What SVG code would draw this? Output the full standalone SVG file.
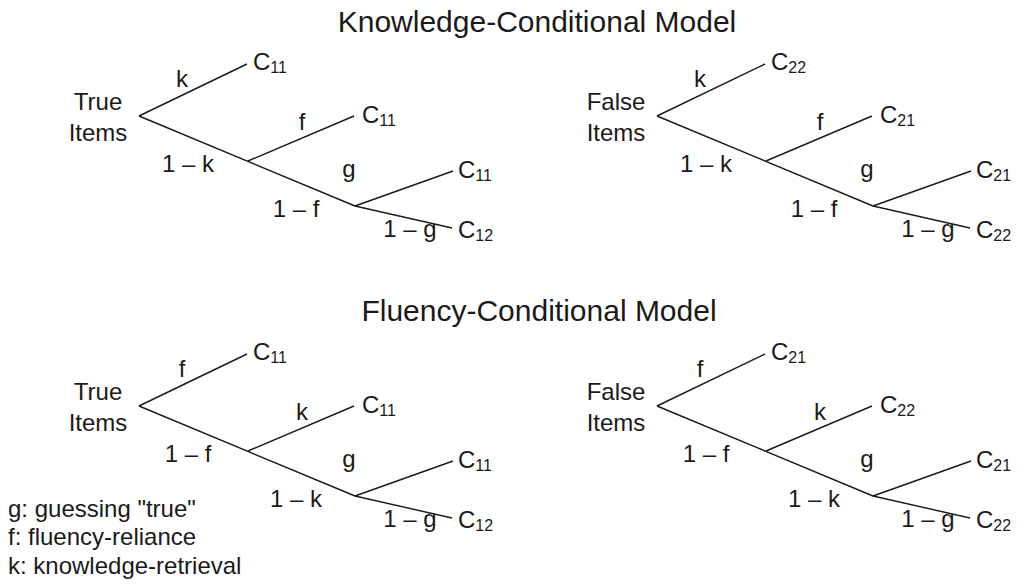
<svg xmlns="http://www.w3.org/2000/svg" width="1022" height="585" viewBox="0 0 1022 585">
<style>
text{font-family:"Liberation Sans",Arial,sans-serif;fill:#1a1a1a}
.t{font-size:30px;text-anchor:middle}
.l{font-size:24px}
.m{text-anchor:middle}
.s{font-size:16px}
.g{font-size:24px}
line{stroke:#1a1a1a;stroke-width:1.4;fill:none}
</style>
<defs>
<g id="tree">
<line x1="139" y1="116" x2="247" y2="64"/>
<line x1="139" y1="116" x2="355" y2="206"/>
<line x1="248" y1="161" x2="354" y2="116"/>
<line x1="355" y1="206" x2="453" y2="171"/>
<line x1="355" y1="206" x2="452" y2="228"/>
</g>
</defs>
<text class="t" x="537" y="32">Knowledge-Conditional Model</text>
<text class="t" x="539" y="321">Fluency-Conditional Model</text>
<g id="connectors">
<use href="#tree"/>
<use href="#tree" x="518"/>
<use href="#tree" y="290"/>
<use href="#tree" x="518" y="290"/>
</g>
<g id="kc-true">
<text class="l m" x="98" y="110">True</text>
<text class="l m" x="98" y="141">Items</text>
<text class="l m" x="182" y="87">k</text>
<text class="l m" x="302" y="130">f</text>
<text class="l m" x="188" y="172">1 – k</text>
<text class="l m" x="349" y="177">g</text>
<text class="l m" x="296" y="217">1 – f</text>
<text class="l m" x="410" y="237">1 – g</text>
<text class="l" x="253" y="70">C<tspan class="s" dy="3">11</tspan></text>
<text class="l" x="362" y="123">C<tspan class="s" dy="3">11</tspan></text>
<text class="l" x="458" y="178">C<tspan class="s" dy="3">11</tspan></text>
<text class="l" x="458" y="238">C<tspan class="s" dy="3">12</tspan></text>
</g>
<g id="kc-false">
<text class="l m" x="616" y="110">False</text>
<text class="l m" x="616" y="141">Items</text>
<text class="l m" x="700" y="87">k</text>
<text class="l m" x="820" y="130">f</text>
<text class="l m" x="706" y="172">1 – k</text>
<text class="l m" x="867" y="177">g</text>
<text class="l m" x="814" y="217">1 – f</text>
<text class="l m" x="928" y="237">1 – g</text>
<text class="l" x="771" y="70">C<tspan class="s" dy="3">22</tspan></text>
<text class="l" x="880" y="123">C<tspan class="s" dy="3">21</tspan></text>
<text class="l" x="976" y="178">C<tspan class="s" dy="3">21</tspan></text>
<text class="l" x="976" y="238">C<tspan class="s" dy="3">22</tspan></text>
</g>
<g id="fc-true">
<text class="l m" x="98" y="400">True</text>
<text class="l m" x="98" y="431">Items</text>
<text class="l m" x="182" y="377">f</text>
<text class="l m" x="302" y="420">k</text>
<text class="l m" x="188" y="462">1 – f</text>
<text class="l m" x="349" y="467">g</text>
<text class="l m" x="296" y="507">1 – k</text>
<text class="l m" x="410" y="527">1 – g</text>
<text class="l" x="253" y="360">C<tspan class="s" dy="3">11</tspan></text>
<text class="l" x="362" y="413">C<tspan class="s" dy="3">11</tspan></text>
<text class="l" x="458" y="468">C<tspan class="s" dy="3">11</tspan></text>
<text class="l" x="458" y="528">C<tspan class="s" dy="3">12</tspan></text>
</g>
<g id="fc-false">
<text class="l m" x="616" y="400">False</text>
<text class="l m" x="616" y="431">Items</text>
<text class="l m" x="700" y="377">f</text>
<text class="l m" x="820" y="420">k</text>
<text class="l m" x="706" y="462">1 – f</text>
<text class="l m" x="867" y="467">g</text>
<text class="l m" x="814" y="507">1 – k</text>
<text class="l m" x="928" y="527">1 – g</text>
<text class="l" x="771" y="360">C<tspan class="s" dy="3">21</tspan></text>
<text class="l" x="880" y="413">C<tspan class="s" dy="3">22</tspan></text>
<text class="l" x="976" y="468">C<tspan class="s" dy="3">21</tspan></text>
<text class="l" x="976" y="528">C<tspan class="s" dy="3">22</tspan></text>
</g>
<g id="legend">
<text class="g" x="8" y="517">g: guessing "true"</text>
<text class="g" x="8" y="545">f: fluency-reliance</text>
<text class="g" x="8" y="574">k: knowledge-retrieval</text>
</g>
</svg>
